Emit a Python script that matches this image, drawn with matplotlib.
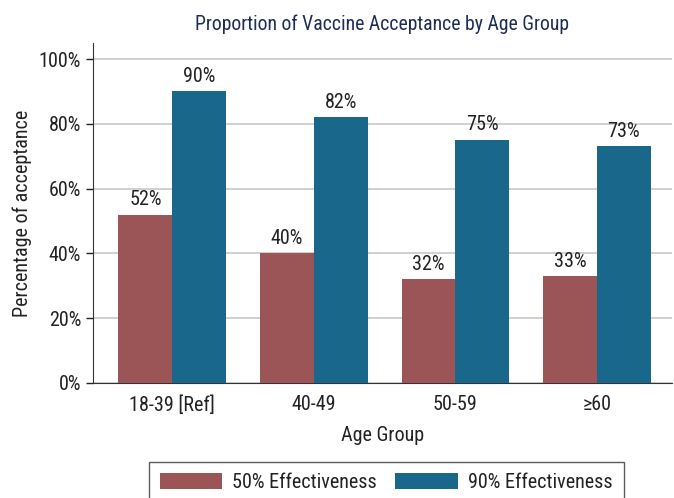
import numpy as np
import matplotlib
matplotlib.use("Agg")
import matplotlib.pyplot as plt

# data
age_groups = ['18-39 [Ref]', '40-49', '50-59', '≥60']
eff_50 = [52, 40, 32, 33]
eff_90 = [90, 82, 75, 73]
series_names = ['50% Effectiveness', '90% Effectiveness']

plt.rcParams['font.family'] = ['Roboto Condensed', 'DejaVu Sans']

red = '#9b5557'
blue = '#19688b'
text_col = '#222222'
fs = 14.5

fig = plt.figure(figsize=(6.74, 4.98), dpi=100)
ax = fig.add_axes([0.138, 0.231, 0.859, 0.683])

x = np.arange(len(age_groups))
w = 0.38
b1 = ax.bar(x - w / 2, eff_50, w, color=red, label=series_names[0], zorder=3)
b2 = ax.bar(x + w / 2, eff_90, w, color=blue, label=series_names[1], zorder=3)

for bars in (b1, b2):
    for rect in bars:
        h = rect.get_height()
        ax.annotate(f'{h:.0f}%', (rect.get_x() + rect.get_width() / 2, h),
                    xytext=(0, 4), textcoords='offset points',
                    ha='center', va='bottom', fontsize=fs, color=text_col)

ax.set_xlim(-0.56, 3.53)
ax.set_ylim(0, 105)
ax.set_yticks(range(0, 101, 20))
ax.set_yticklabels([f'{v}%' for v in range(0, 101, 20)])
ax.set_xticks(x)
ax.set_xticklabels(age_groups)
ax.tick_params(axis='x', length=0, pad=9, labelsize=fs, colors=text_col)
ax.tick_params(axis='y', length=5, width=1, labelsize=fs, colors=text_col)
ax.grid(axis='y', color='#c8c8c8', linewidth=1.2, zorder=0)
for s in ('top', 'right'):
    ax.spines[s].set_visible(False)
ax.spines['left'].set_color('#333333')
ax.spines['bottom'].set_color('#333333')

ax.set_title('Proportion of Vaccine Acceptance by Age Group', fontsize=14.2,
             color='#1e2d58', pad=9)
ax.set_xlabel('Age Group', fontsize=fs, color=text_col, labelpad=8)
ax.set_ylabel('Percentage of acceptance', fontsize=fs, color=text_col, labelpad=5)

leg = fig.legend(handles=[b1, b2], loc='upper center', bbox_to_anchor=(0.573, 1 - 462 / 498),
                 ncol=2, fontsize=fs, frameon=True, fancybox=False, edgecolor='#333333',
                 handlelength=3.1, handleheight=0.85, columnspacing=0.9, borderpad=0.55,
                 handletextpad=0.5, borderaxespad=0)
leg.get_frame().set_linewidth(1)
for t in leg.get_texts():
    t.set_color(text_col)

plt.savefig('out.png', dpi=100)
plt.close()
